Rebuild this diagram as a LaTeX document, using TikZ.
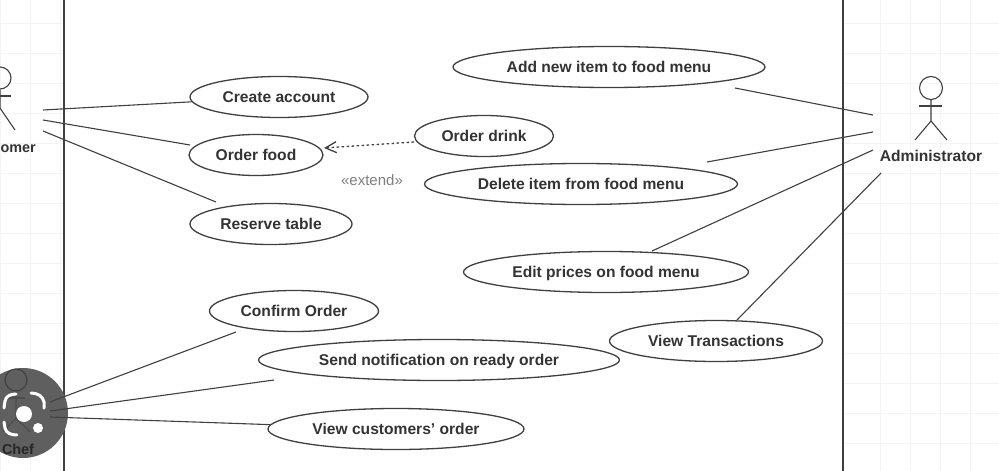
\documentclass[tikz,border=0pt]{standalone}
\usepackage{fontspec}
\setmainfont{Liberation Sans}
\usetikzlibrary{shapes.geometric, arrows.meta}
\definecolor{linegray}{HTML}{404040}
\definecolor{textgray}{HTML}{333333}
\definecolor{gridgray}{HTML}{F4F4F4}
\definecolor{lensgray}{HTML}{5F5F5F}
\tikzstyle{usecase} = [ellipse, draw = linegray, line width = 1.3pt, inner sep = 0pt, font = \bfseries\fontsize{15.6}{17}\selectfont, text = textgray, text height = 11pt, text depth = 0pt, minimum height = 41pt]
\tikzstyle{assoc} = [draw = linegray, line width = 1.1pt]
\tikzstyle{actorname} = [font = \bfseries\fontsize{15.6}{17}\selectfont, text = textgray, inner sep = 0pt, text height = 11pt, text depth = 0pt]
\tikzstyle{boundary} = [draw = linegray, line width = 1.4pt]
\tikzstyle{lens} = [draw = white, line width = 3pt, line cap = round]

\begin{document}
\begin{tikzpicture}[x = 1pt, y = -1pt]
	\useasboundingbox (0,0) rectangle (999,471);
	\clip (0,0) rectangle (999,471);
	\fill[white] (0,0) rectangle (999,471);
	% faint paper grid outside the system
	\foreach \gx in {0,30,60,880,910,...,970}
		\draw[gridgray] (\gx,0) -- (\gx,471);
	\foreach \gy in {23,53,...,470} {
		\draw[gridgray] (0,\gy) -- (64,\gy);
		\draw[gridgray] (843,\gy) -- (999,\gy);
	}
	\draw[boundary] (64,0) -- (64,471);
	\draw[boundary] (843,0) -- (843,471);

	% use cases
	\node[usecase, minimum width = 178pt] (create) at (279,97) {Create account};
	\node[usecase, minimum width = 134pt] (food) at (256,155) {Order food};
	\node[usecase, minimum width = 162pt] (table) at (271,224) {Reserve table};
	\node[usecase, minimum width = 139pt] (drink) at (484,136) {Order drink};
	\node[usecase, minimum width = 312pt] (additem) at (609,67) {Add new item to food menu};
	\node[usecase, minimum width = 313pt] (delitem) at (581,184) {Delete item from food menu};
	\node[usecase, minimum width = 285pt] (prices) at (606,272) {Edit prices on food menu};
	\node[usecase, minimum width = 213pt] (trans) at (716,341) {View Transactions};
	\node[usecase, minimum width = 169pt] (confirm) at (294,311) {Confirm Order};
	\node[usecase, minimum width = 361pt] (notify) at (439,360) {Send notification on ready order};
	\node[usecase, minimum width = 256pt] (custorder) at (396,429) {View customers' order};
	\node[text = gray, inner sep = 0pt, font = \fontsize{15}{17}\selectfont] (extend) at (372,180) {«extend»};

	% customer
	\node[circle, draw = linegray, line width = 1.1pt, minimum size = 22pt, inner sep = 0pt] (custhead) at (0,78) {};
	\coordinate (custhip) at (0,108);
	\coordinate (custfoot) at (15,130);
	\coordinate (custarm) at (11,96);
	\coordinate (custarmin) at (0,96);
	\draw[assoc] (custhead) -- (custhip) -- (custfoot);
	\draw[assoc] (custarmin) -- (custarm);
	\node[actorname, anchor = east, font = \bfseries\fontsize{14.4}{17}\selectfont] (customer) at (36,147) {omer};

	% administrator
	\node[circle, draw = linegray, line width = 1.1pt, minimum size = 23pt, inner sep = 0pt] (adminhead) at (931,88) {};
	\coordinate (adminhip) at (931,121);
	\coordinate (adminleft) at (915,140);
	\coordinate (adminright) at (947,140);
	\coordinate (adminarml) at (919,106);
	\coordinate (adminarmr) at (942,106);
	\draw[assoc] (adminhead) -- (adminhip) -- (adminleft);
	\draw[assoc] (adminhip) -- (adminright);
	\draw[assoc] (adminarml) -- (adminarmr);
	\node[actorname] (admin) at (931,156) {Administrator};

	% customer associations
	\coordinate (cust1) at (43,110);
	\coordinate (cust2) at (43,120);
	\coordinate (cust3) at (43,131);
	\coordinate (foodleft) at (190,145);
	\coordinate (tabletop) at (216,202);
	\draw[assoc] (cust1) -- (create);
	\draw[assoc] (cust2) -- (foodleft);
	\draw[assoc] (cust3) -- (tabletop);

	% admin associations
	\coordinate (adm1) at (873,115);
	\coordinate (adm2) at (873,132);
	\coordinate (adm3) at (873,150);
	\coordinate (adm4) at (881,173);
	\coordinate (addend) at (735,88);
	\coordinate (delend) at (707,162);
	\coordinate (priceend) at (652,251);
	\coordinate (transend) at (737,320);
	\draw[assoc] (addend) -- (adm1);
	\draw[assoc] (delend) -- (adm2);
	\draw[assoc] (priceend) -- (adm3);
	\draw[assoc] (transend) -- (adm4);

	% extend
	\coordinate (foodright) at (324,148);
	\coordinate (drinkleft) at (414,142);
	\draw[assoc, line width = 1.3pt, dash pattern = on 2.5pt off 2.5pt, -{Straight Barb[length = 11pt, width = 11pt]}] (drinkleft) -- (foodright);

	% chef with the lens badge on top
	\fill[lensgray] (23,413) circle (45);
	\node[circle, draw = linegray, line width = 1.1pt, minimum size = 22pt, inner sep = 0pt] (chefhead) at (16,380) {};
	\coordinate (chefhip) at (16,418);
	\coordinate (chefleft) at (3,432);
	\coordinate (chefright) at (30,432);
	\coordinate (chefarml) at (7,398);
	\coordinate (chefarmr) at (25,398);
	\draw[assoc, draw = black!70] (chefhead) -- (chefhip) -- (chefleft);
	\draw[assoc, draw = black!70] (chefhip) -- (chefright);
	\draw[assoc, draw = black!70] (chefarml) -- (chefarmr);
	\node[actorname, text = black!85, font = \bfseries\fontsize{14.4}{17}\selectfont] (chef) at (18,449) {Chef};
	\coordinate (chef1) at (50,402);
	\coordinate (chef2) at (50,411);
	\coordinate (chef3) at (50,417);
	\coordinate (confend) at (236,332);
	\coordinate (notend) at (274,380);
	\draw[assoc] (chef1) -- (confend);
	\draw[assoc] (chef2) -- (notend);
	\draw[assoc] (chef3) -- (custorder);
	\draw[lens] (4,408) -- (5,401) to[out = 80, in = 180] (16,394);
	\draw[lens] (31,393) to[out = 0, in = 100] (44,402) -- (44,408);
	\draw[lens] (4,422) -- (5,428) to[out = -80, in = 180] (17,435);
	\fill[white] (24,414) circle (8);
	\fill[white] (38,428) circle (5);
\end{tikzpicture}
\end{document}
